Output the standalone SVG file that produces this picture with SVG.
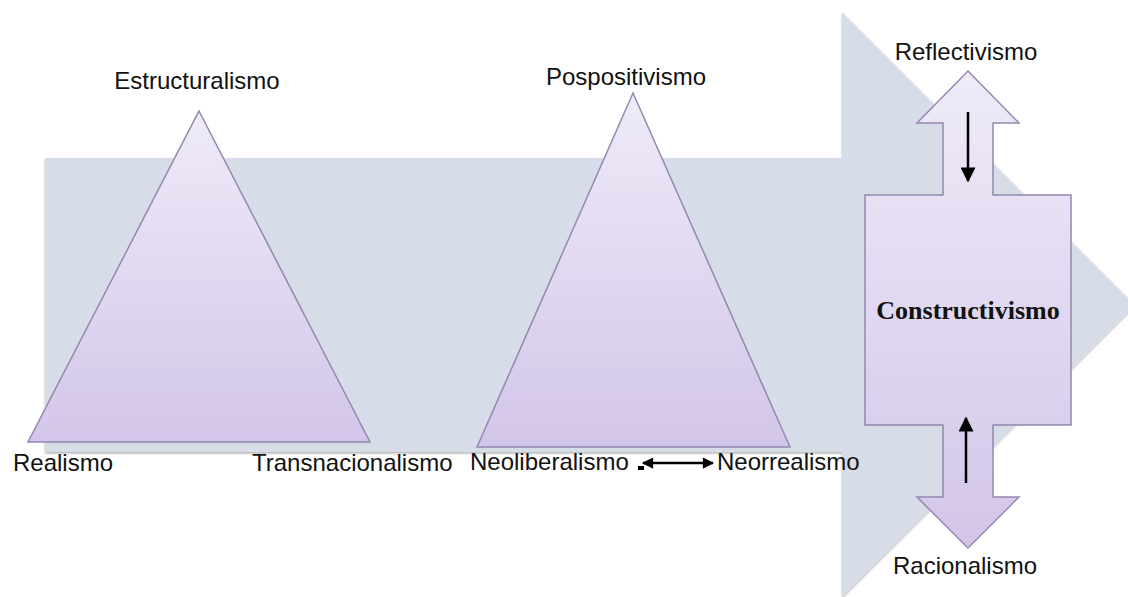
<svg xmlns="http://www.w3.org/2000/svg" width="1128" height="597" viewBox="0 0 1128 597">
<defs>
<linearGradient id="lav" x1="0" y1="0" x2="0" y2="1">
<stop offset="0" stop-color="#efebf8"/>
<stop offset="1" stop-color="#d3c5e9"/>
</linearGradient>
<filter id="sh" x="-5%" y="-5%" width="110%" height="110%">
<feDropShadow dx="0" dy="1.5" stdDeviation="1.2" flood-color="#000" flood-opacity="0.3"/>
</filter>
<marker id="ah" viewBox="0 0 10 10" refX="9" refY="5" markerWidth="6.4" markerHeight="6" markerUnits="strokeWidth" orient="auto-start-reverse">
<path d="M0,0 L10,5 L0,10 Z" fill="#000"/>
</marker>
<marker id="ah2" viewBox="0 0 10 10" refX="9" refY="5" markerWidth="5.5" markerHeight="4.5" markerUnits="strokeWidth" orient="auto-start-reverse">
<path d="M0,0 L10,5 L0,10 Z" fill="#000"/>
</marker>
</defs>
<style>
.lbl{font-family:"Liberation Sans",Arial,sans-serif;font-size:24px;fill:#111}
.shape{fill:url(#lav);stroke:#9487b0;stroke-width:1.5}
.conn{stroke:#000;stroke-width:2.5;fill:none}
</style>
<rect width="1128" height="597" fill="#fff"/>
<g id="big-arrow">
<polygon points="45,158 842,158 842,12 1135,305 842,597 842,452 45,452" fill="#d6dde8" filter="url(#sh)"/>
</g>
<g id="estructuralismo-triangle">
<polygon class="shape" points="199,111 370,442 28,442"/>
<text class="lbl" x="197" y="89" text-anchor="middle">Estructuralismo</text>
</g>
<g id="realismo">
<text class="lbl" x="13" y="471">Realismo</text>
</g>
<g id="transnacionalismo">
<text class="lbl" x="252" y="471">Transnacionalismo</text>
</g>
<g id="pospositivismo-triangle">
<polygon class="shape" points="633,93 790,447 477,447"/>
<text class="lbl" x="626" y="85" text-anchor="middle">Pospositivismo</text>
</g>
<g id="neoliberalismo">
<text class="lbl" x="470" y="470">Neoliberalismo</text>
</g>
<g id="neorrealismo">
<text class="lbl" x="717" y="470">Neorrealismo</text>
</g>
<g id="constructivismo">
<path class="shape" d="M968,71 L1019,123 L993,123 L993,195 L1071,195 L1071,425 L993,425 L993,497 L1019,497 L968,548 L917,497 L943,497 L943,425 L865,425 L865,195 L943,195 L943,123 L917,123 Z"/>
<text x="968" y="319" text-anchor="middle" font-family="'Liberation Serif','Times New Roman',serif" font-weight="bold" font-size="26" fill="#111">Constructivismo</text>
</g>
<g id="reflectivismo">
<text class="lbl" x="966" y="60" text-anchor="middle">Reflectivismo</text>
</g>
<g id="racionalismo">
<text class="lbl" x="965" y="574" text-anchor="middle">Racionalismo</text>
</g>
<g id="connectors">
<rect x="638" y="466" width="6" height="4" fill="#000"/>
<line class="conn" x1="643" y1="463" x2="713" y2="463" marker-start="url(#ah2)" marker-end="url(#ah2)"/>
<line class="conn" x1="968" y1="112" x2="968" y2="181" marker-end="url(#ah)"/>
<line class="conn" x1="966" y1="483" x2="966" y2="418" marker-end="url(#ah)"/>
</g>
</svg>
